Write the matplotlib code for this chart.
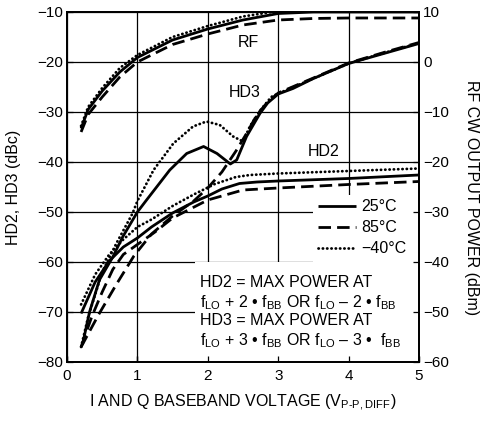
"""HD2/HD3 and RF output power vs baseband voltage, three temperatures."""

from __future__ import annotations

import matplotlib

matplotlib.use("Agg")
import matplotlib.pyplot as plt
from matplotlib.lines import Line2D
from matplotlib.patches import Rectangle

plt.rcParams["font.family"] = ["Liberation Sans", "DejaVu Sans"]
plt.rcParams["mathtext.fontset"] = "custom"
plt.rcParams["mathtext.rm"] = "Liberation Sans"
plt.rcParams["font.size"] = 11

# RF CW output power (dBm, right axis)
rf_x = [0.2, 0.3, 0.5, 0.75, 1.0, 1.5, 2.0, 2.5, 3.0, 3.5, 4.0, 5.0]
rf_25 = [-13.3, -9.5, -5.8, -2.0, 0.9, 4.4, 6.6, 8.4, 9.7, 10.0, 10.0, 10.0]
rf_85 = [-14.0, -10.5, -7.0, -3.0, 0.0, 3.5, 5.6, 7.4, 8.4, 8.7, 8.8, 8.8]
rf_m40 = [-12.8, -9.0, -5.2, -1.2, 1.4, 5.0, 7.2, 9.1, 10.2, 10.4, 10.5, 10.6]

# HD2 (dBc, left axis)
hd2_25_x = [0.2, 0.4, 0.6, 0.8, 1.0, 1.2, 1.5, 1.8, 2.0, 2.2, 2.45, 2.7, 3.0, 4.0, 5.0]
hd2_25 = [-70.3, -64.0, -59.8, -57.0, -55.2, -53.0, -50.2, -48.0, -46.8, -45.4, -44.3, -44.0, -43.8, -43.3, -42.6]
hd2_85_x = [0.2, 0.35, 0.5, 0.65, 0.8, 1.0, 1.25, 1.5, 2.0, 2.5, 3.0, 4.0, 5.0]
hd2_85 = [-77.0, -71.0, -66.0, -61.5, -58.5, -56.5, -54.0, -51.2, -47.6, -45.6, -45.2, -44.5, -43.9]
hd2_m40_x = [0.2, 0.4, 0.6, 0.8, 1.0, 1.2, 1.5, 1.8, 2.1, 2.4, 2.6, 3.0, 4.0, 5.0]
hd2_m40 = [-68.5, -62.5, -58.5, -55.5, -53.0, -51.5, -48.8, -46.5, -44.4, -43.0, -42.6, -42.3, -41.8, -41.3]

# HD3 (dBc, left axis)
hd3_25_x = [0.22, 0.32, 0.46, 0.65, 0.79, 1.0, 1.13, 1.46, 1.7, 1.94, 2.13, 2.32, 2.41, 2.55,
            2.74, 2.85, 3.0, 3.21, 3.5, 4.0, 4.5, 5.0]
hd3_25 = [-76.5, -70.0, -63.6, -59.0, -55.0, -50.0, -47.6, -41.6, -38.3, -36.9, -38.3, -40.4, -39.6, -34.9,
          -30.3, -28.2, -26.4, -25.3, -23.3, -20.3, -18.3, -16.3]
hd3_85_x = [0.2, 0.45, 0.7, 0.95, 1.2, 1.5, 1.8, 2.0, 2.2, 2.4, 2.55, 2.7, 2.85, 3.0, 3.5, 4.0, 4.5, 5.0]
hd3_85 = [-77.0, -70.5, -64.5, -58.8, -54.4, -50.8, -47.8, -45.2, -42.0, -37.8, -34.3, -30.5, -28.0,
          -26.2, -23.2, -20.2, -18.1, -16.1]
hd3_m40_x = [0.2, 0.3, 0.5, 0.7, 0.93, 1.0, 1.23, 1.51, 1.79, 1.98, 2.17, 2.36, 2.5, 2.6, 2.75, 2.9,
             3.0, 3.5, 4.0, 4.5, 5.0]
hd3_m40 = [-77.0, -71.0, -62.0, -56.3, -50.3, -47.8, -41.6, -36.3, -32.9, -31.9, -32.6, -34.9, -35.9,
           -32.8, -29.6, -27.0, -26.3, -23.3, -20.3, -18.2, -16.2]

temp_labels = ["25\u00b0C", "85\u00b0C", "\u221240\u00b0C"]

SOLID = dict(color="black", lw=2.0, linestyle="-", solid_capstyle="butt")
DASHED = dict(color="black", lw=2.0, linestyle=(0, (4.5, 2.2)), dash_capstyle="butt")
DOTTED = dict(color="black", lw=2.0, linestyle=(0, (0.1, 1.45)), dash_capstyle="round")

SUB_LO = r"$_\mathregular{LO}$"
SUB_BB = r"$_\mathregular{BB}$"


def main() -> None:
    fig = plt.figure(figsize=(4.8, 4.22), dpi=100)
    ax = fig.add_axes([0.1396, 0.1422, 0.7334, 0.8294])
    ax2 = ax.twinx()

    ax.set_xlim(0, 5)
    ax.set_ylim(-80, -10)
    ax2.set_ylim(-60, 10)
    ax.set_xticks(range(6))
    ax.set_yticks(range(-80, -9, 10))
    ax2.set_yticks(range(-60, 11, 10))
    ax.set_xticklabels([str(v) for v in range(6)])
    ax.set_yticklabels([f"\u2212{abs(v)}" for v in range(-80, -9, 10)])
    ax2.set_yticklabels([f"\u2212{abs(v)}" if v < 0 else str(v) for v in range(-60, 11, 10)])

    ax.set_axisbelow(True)
    ax.grid(True, color="black", lw=0.9)
    ax.tick_params(direction="in", length=4, width=0.9, pad=3, labelsize=11)
    ax.tick_params(axis="x", pad=5)
    ax2.tick_params(axis="y", direction="in", length=4, width=0.9, pad=3, labelsize=11)
    ax2.xaxis.set_visible(True)
    ax2.tick_params(axis="x", bottom=True, top=False, labelbottom=False, direction="in", length=4, width=0.9)
    for spine in list(ax.spines.values()) + list(ax2.spines.values()):
        spine.set_linewidth(1.3)

    # white areas behind the legend and the note
    ax.add_patch(Rectangle((0.699, 0.286), 0.301, 0.191, transform=ax.transAxes,
                           facecolor="white", edgecolor="none", zorder=1))
    ax.add_patch(Rectangle((0.364, 0.0), 0.636, 0.286, transform=ax.transAxes,
                           facecolor="white", edgecolor="none", zorder=1))

    ax2.plot(rf_x, rf_25, **SOLID)
    ax2.plot(rf_x, rf_85, **DASHED)
    ax2.plot(rf_x, rf_m40, **DOTTED)

    ax.plot(hd2_25_x, hd2_25, zorder=2, **SOLID)
    ax.plot(hd2_85_x, hd2_85, zorder=2, **DASHED)
    ax.plot(hd2_m40_x, hd2_m40, zorder=2, **DOTTED)
    ax.plot(hd3_25_x, hd3_25, zorder=2, **SOLID)
    ax.plot(hd3_85_x, hd3_85, zorder=2, **DASHED)
    ax.plot(hd3_m40_x, hd3_m40, zorder=2, **DOTTED)

    ax.text(2.57, -16.2, "RF", ha="center", va="center", fontsize=11.5)
    ax.text(2.53, -26.1, "HD3", ha="center", va="center", fontsize=11.5)
    ax.text(3.64, -37.9, "HD2", ha="center", va="center", fontsize=11.5)

    handles = [Line2D([], [], **SOLID), Line2D([], [], **DASHED), Line2D([], [], **DOTTED)]
    ax.legend(handles, temp_labels, loc="upper left", bbox_to_anchor=(0.713, 0.465),
              frameon=False, borderpad=0, borderaxespad=0, handlelength=2.4,
              handletextpad=0.3, labelspacing=0.38, fontsize=11.5)

    note = [
        "HD2 = MAX POWER AT",
        f"f{SUB_LO} + 2 \u2022 f{SUB_BB} OR f{SUB_LO} \u2013 2 \u2022 f{SUB_BB}",
        "HD3 = MAX POWER AT",
        f"f{SUB_LO} + 3 \u2022 f{SUB_BB} OR f{SUB_LO} \u2013 3 \u2022  f{SUB_BB}",
    ]
    for line, y in zip(note, [0.214, 0.157, 0.106, 0.049]):
        ax.text(0.378, y, line, transform=ax.transAxes,
                ha="left", va="baseline", fontsize=11.5, zorder=3)

    ax.set_xlabel("I AND Q BASEBAND VOLTAGE (V" + r"$_\mathregular{P\u2010P,DIFF}$".replace("\\u2010", "\u2010") + ")",
                  fontsize=11.5, labelpad=7)
    ax.set_ylabel("HD2, HD3 (dBc)", fontsize=11.5, ha="center", va="center")
    ax.yaxis.set_label_coords(-0.152, 0.5)
    ax2.set_ylabel("RF CW OUTPUT POWER (dBm)", fontsize=11.5, rotation=270, ha="center", va="center")
    ax2.yaxis.set_label_coords(1.148, 0.47)

    fig.savefig("out.png", dpi=100)
    plt.close(fig)


if __name__ == "__main__":
    main()
